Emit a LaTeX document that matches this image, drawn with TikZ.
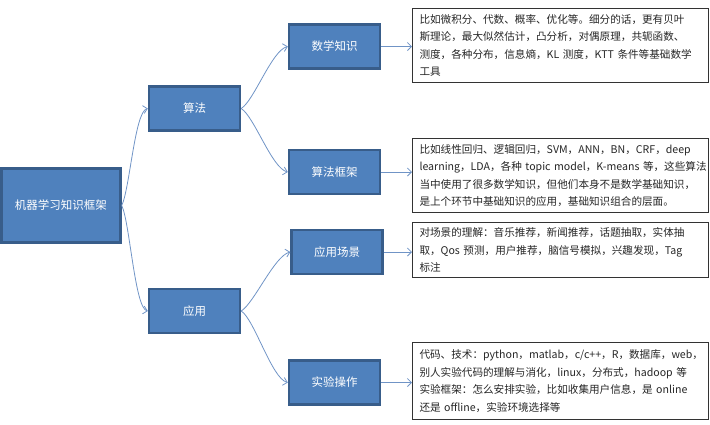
\documentclass[tikz,border=0pt]{standalone}
\usepackage{fontspec}
\setmainfont{Noto Sans CJK SC}
\usetikzlibrary{arrows.meta}
\definecolor{boxblue}{HTML}{4F81BD}
\definecolor{boxedge}{HTML}{385D8A}
\definecolor{linkblue}{HTML}{7094C6}

\begin{document}
\begin{tikzpicture}[x=1pt, y=-1pt,
    topic/.style={draw=boxedge, line width=2.4pt, fill=boxblue, text=white,
        minimum width=91pt, minimum height=44pt, font=\fontsize{11.5}{14}\selectfont},
    note/.style={draw=black!80, line width=1pt, fill=white, text=black!85,
        anchor=north west, align=left, text width=282pt, inner xsep=7pt,
        font=\fontsize{10.6}{17.5}\selectfont},
    link/.style={draw=linkblue, line width=0.8pt, -{Straight Barb[length=4pt, width=8pt]}}]
    \useasboundingbox (0,0) rectangle (710,424);

    % left column
    \node[topic, minimum width=119pt, minimum height=74pt] (root) at (61,205.5) {机器学习知识框架};
    \node[topic] (algo) at (194.5,108.5) {算法};
    \node[topic] (app) at (194.5,311) {应用};

    % middle column
    \node[topic] (math) at (334.5,46.5) {数学知识};
    \node[topic] (frame) at (334.5,172) {算法框架};
    \node[topic] (scene) at (337,252) {应用场景};
    \node[topic] (exper) at (334.5,382.5) {实验操作};

    % notes
    \node[note, minimum height=74pt] (mathnote) at (412,8) {比如微积分、代数、概率、优化等。细分的话，更有贝叶\\
        斯理论，最大似然估计，凸分析，对偶原理，共轭函数、\\
        测度，各种分布，信息熵，KL~测度，KTT~条件等基础数学\\
        工具};
    \node[note, minimum height=74pt] (framenote) at (412,138) {比如线性回归、逻辑回归，SVM，ANN，BN，CRF，deep\\
        \mbox{learning，LDA，各种 topic model，K-means 等，这些算法}\\
        当中使用了很多数学知识，但他们本身不是数学基础知识，\\
        是上个环节中基础知识的应用，基础知识组合的层面。};
    \node[note, minimum height=55pt] (scenenote) at (412,222) {对场景的理解：音乐推荐，新闻推荐，话题抽取，实体抽\\
        取，Qos~预测，用户推荐，脑信号模拟，兴趣发现，Tag\\
        标注};
    \node[note, minimum height=77pt] (expernote) at (412,342) {代码、技术：python，matlab，c/c++，R，数据库，web，\\
        别人实验代码的理解与消化，linux，分布式，hadoop~等\\
        实验框架：怎么安排实验，比如收集用户信息，是~online\\
        还是~offline，实验环境选择等};

    % connectors
    \draw[link] (root.east) .. controls +(8,-16) and +(-13,3) .. (algo.west);
    \draw[link] (root.east) .. controls +(8,16) and +(-13,-3) .. (app.west);
    \draw[link] (algo.east) .. controls +(13,-8) and +(-16,4) .. (math.west);
    \draw[link] (algo.east) .. controls +(13,8) and +(-16,-4) .. (frame.west);
    \draw[link] (app.east) .. controls +(13,-8) and +(-16,4) .. (scene.west);
    \draw[link] (app.east) .. controls +(13,8) and +(-16,-4) .. (exper.west);

    \draw[link] (math.east) -- (math.east -| mathnote.west);
    \draw[link] (frame.east) -- (frame.east -| framenote.west);
    \draw[link] (scene.east) -- (scene.east -| scenenote.west);
    \draw[link] (exper.east) -- (exper.east -| expernote.west);
\end{tikzpicture}
\end{document}
